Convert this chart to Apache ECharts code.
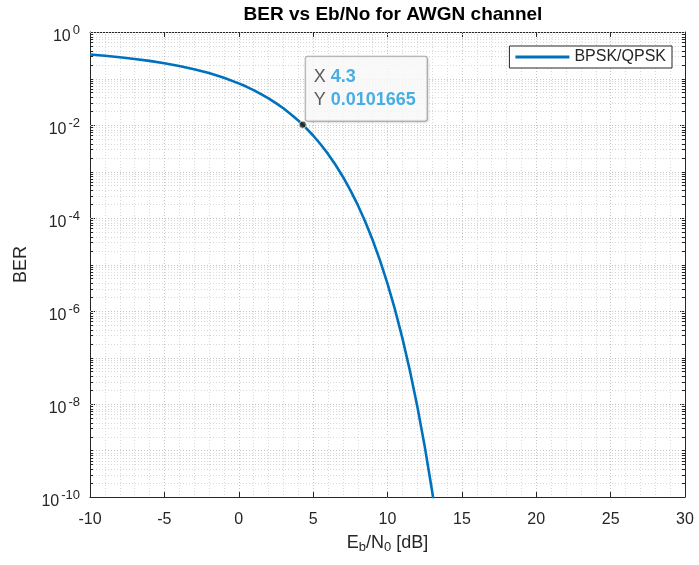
<!DOCTYPE html>
<html><head><meta charset="utf-8">
<script src="https://cdn.jsdelivr.net/npm/echarts@6/dist/echarts.min.js"></script>
<style>html,body{margin:0;padding:0;background:#fff}#c{width:699px;height:565px}</style>
</head><body><div id="c"></div>
<script>
// ---- data ----
const ebnoDb = [-10,-9,-8,-7,-6,-5,-4,-3,-2,-1,0,0.5,1,1.5,2,2.5,3,3.5,4,4.5,5,5.5,6,6.5,7,7.5,8,8.5,9,9.5,10,10.5,11,11.5,12,12.5,13,13.5,14];
const berValues = [0.3274,0.3079,0.2867,0.2637,0.2393,0.2133,0.1861,0.1584,0.1306,0.1040,0.0786,0.0671,0.0563,0.0463,0.0375,0.0295,0.0229,0.0171,0.0125,0.0088,0.00595,0.00386,0.00239,0.00140,7.73e-4,3.98e-4,1.91e-4,8.4e-5,3.36e-5,1.21e-5,3.87e-6,1.08e-6,2.61e-7,5.3e-8,9.0e-9,1.24e-9,1.33e-10,1.1e-11,6.8e-13];
const xTicks = [-10,-5,0,5,10,15,20,25,30];
const yTickExponents = [0,-2,-4,-6,-8,-10];
const tipPoint = [4.3, 0.0101665];
const seriesName = 'BPSK/QPSK';
const titleText = 'BER vs Eb/No for AWGN channel';

const FONT = '"Liberation Sans", Arial, Helvetica, sans-serif';
const AX = '#262626';
const GRID = '#c4c4c4';
const GRID_MINOR = '#d8d8d8';
const X_MIN = xTicks[0], X_MAX = xTicks[xTicks.length - 1];
const Y_MIN = Math.pow(10, yTickExponents[yTickExponents.length - 1]), Y_MAX = Math.pow(10, yTickExponents[0]);

// horizontal grid levels: decades (major) and 2..9 x decade (minor)
const majorY = [], minorY = [], minorTickY = [];
for (let e = -10; e <= 0; e++) majorY.push(Math.pow(10, e));
for (let e = -10; e < 0; e++) for (let k = 2; k <= 9; k++) minorY.push(k * Math.pow(10, e));
for (let e = -10; e < 0; e++) for (let k = 1; k <= 9; k++) {
  if (k === 1 && yTickExponents.indexOf(e) >= 0) continue;
  minorTickY.push(k * Math.pow(10, e));
}

function hLines(values, color, name) {
  return {
    name: name, type: 'custom', xAxisIndex: 0, yAxisIndex: 0, silent: true, z: 1, clip: true,
    data: values.map(v => [X_MIN, v]),
    renderItem: function (params, api) {
      const v = api.value(1);
      const p1 = api.coord([X_MIN, v]);
      const p2 = api.coord([X_MAX, v]);
      const y = Math.round(p1[1]) + 0.5;
      return {type: 'line', shape: {x1: p1[0], y1: y, x2: p2[0], y2: y},
              style: {stroke: color, lineWidth: 1, lineDash: [1, 2]}};
    }
  };
}
function minorTicks(values) {
  return {
    name: 'minorTicks', type: 'custom', xAxisIndex: 0, yAxisIndex: 0, silent: true, z: 6, clip: false,
    data: values.map(v => [X_MIN, v]),
    renderItem: function (params, api) {
      const v = api.value(1);
      const p1 = api.coord([X_MIN, v]);
      const p2 = api.coord([X_MAX, v]);
      const y = Math.round(p1[1]) + 0.5;
      return {type: 'group', children: [
        {type: 'line', shape: {x1: p1[0], y1: y, x2: p1[0] + 3, y2: y}, style: {stroke: AX, lineWidth: 1}},
        {type: 'line', shape: {x1: p2[0], y1: y, x2: p2[0] - 3, y2: y}, style: {stroke: AX, lineWidth: 1}}
      ]};
    }
  };
}

const chart = echarts.init(document.getElementById('c'), null, {renderer: 'canvas'});
const yFmt = v => '{base|10}{sup|' + Math.round(Math.log10(v)) + '}';

chart.setOption({
  animation: false,
  backgroundColor: '#fff',
  title: {
    text: titleText, left: 388, top: 0, textAlign: 'center',
    textStyle: {fontFamily: FONT, fontSize: 19, fontWeight: 'bold', color: '#000'}
  },
  grid: {left: 90, right: 14, top: 32, bottom: 68, containLabel: false},
  legend: {
    right: 27, top: 46, padding: [3, 6, 3, 6],
    borderColor: AX, borderWidth: 1, backgroundColor: '#fff', borderRadius: 0,
    itemWidth: 54, itemHeight: 3, itemGap: 6,
    data: [{name: seriesName, icon: 'rect'}],
    textStyle: {fontFamily: FONT, fontSize: 16, color: AX}
  },
  xAxis: [{
    type: 'value', min: X_MIN, max: X_MAX, interval: 5,
    name: '{n|E}{s|b}{n|/N}{s|0}{n| [dB]}', nameLocation: 'middle', nameGap: 35,
    nameTextStyle: {rich: {
      n: {fontSize: 18, fontFamily: FONT, color: AX, lineHeight: 22, verticalAlign: 'middle'},
      s: {fontSize: 13, fontFamily: FONT, color: AX, lineHeight: 6, verticalAlign: 'bottom'}
    }},
    axisLine: {show: true, onZero: false, lineStyle: {color: AX, width: 1}},
    axisTick: {show: true, inside: true, length: 5, lineStyle: {color: AX}},
    axisLabel: {fontFamily: FONT, fontSize: 16, color: AX, margin: 15},
    splitLine: {show: true, lineStyle: {color: GRID, type: [1, 2], width: 1}},
    minorTick: {show: false, splitNumber: 5},
    minorSplitLine: {show: true, lineStyle: {color: GRID_MINOR, type: [1, 2], width: 1}}
  }, {
    type: 'value', position: 'top', min: X_MIN, max: X_MAX, interval: 5,
    axisLine: {show: true, onZero: false, lineStyle: {color: AX, width: 1}},
    axisTick: {show: true, inside: true, length: 5, lineStyle: {color: AX}},
    axisLabel: {show: false}, splitLine: {show: false}
  }],
  yAxis: [{
    type: 'log', logBase: 10, min: Y_MIN, max: Y_MAX, interval: 2,
    name: 'BER', nameLocation: 'middle', nameRotate: 90, nameGap: 53,
    nameTextStyle: {fontFamily: FONT, fontSize: 18, color: AX},
    axisLine: {show: true, onZero: false, lineStyle: {color: AX, width: 1}},
    axisTick: {show: true, inside: true, length: 5, lineStyle: {color: AX}},
    axisLabel: {formatter: yFmt, margin: 10, rich: {
      base: {fontSize: 16, color: AX, fontFamily: FONT, lineHeight: 16, padding: [9, 0, 0, 0], verticalAlign: 'middle'},
      sup: {fontSize: 13, color: AX, fontFamily: FONT, lineHeight: 12, padding: [0, 0, 3, 2], verticalAlign: 'middle'}
    }},
    splitLine: {show: false}
  }, {
    type: 'log', logBase: 10, min: Y_MIN, max: Y_MAX, interval: 2, position: 'right',
    axisLine: {show: true, onZero: false, lineStyle: {color: AX, width: 1}},
    axisTick: {show: true, inside: true, length: 5, lineStyle: {color: AX}},
    axisLabel: {show: false}, splitLine: {show: false}
  }],
  series: [
    hLines(minorY, GRID_MINOR, 'minorGrid'),
    hLines(majorY, GRID, 'majorGrid'),
    minorTicks(minorTickY),
  {
    name: seriesName, type: 'line', xAxisIndex: 0, yAxisIndex: 0,
    data: ebnoDb.map((x, i) => [x, berValues[i]]),
    showSymbol: false, smooth: false, clip: true,
    lineStyle: {color: '#0072BD', width: 2.6}, itemStyle: {color: '#0072BD'},
    z: 5
  }, {
    name: 'tip', type: 'scatter', xAxisIndex: 0, yAxisIndex: 0,
    data: [tipPoint], symbolSize: 7, z: 10,
    itemStyle: {color: '#1a1a1a', borderColor: '#e8e0a0', borderWidth: 1},
    label: {
      show: true, position: [7, -64],
      formatter: () => '{k|X }{v|' + tipPoint[0] + '}\n{k|Y }{v|' + tipPoint[1] + '}',
      backgroundColor: '#fff', borderColor: '#9a9a9a', borderWidth: 1, borderRadius: 2,
      padding: [9, 11, 9, 8], shadowColor: 'rgba(0,0,0,0.15)', shadowBlur: 3, shadowOffsetX: 1, shadowOffsetY: 1,
      rich: {
        k: {fontFamily: FONT, fontSize: 18, color: '#333', lineHeight: 23},
        v: {fontFamily: FONT, fontSize: 18, color: '#1a9be0', fontWeight: 'bold', lineHeight: 23}
      }
    }
  }]
});
</script>
</body></html>
